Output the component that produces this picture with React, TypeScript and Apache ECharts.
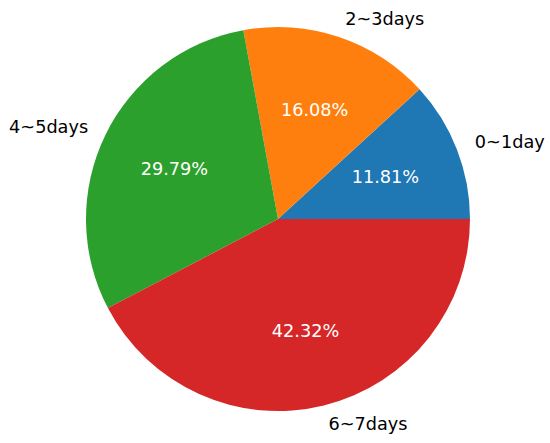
import React, { useEffect, useRef } from "react";
import * as echarts from "echarts";

const categories = ["0~1day", "2~3days", "4~5days", "6~7days"];
const values = [11.81, 16.08, 29.79, 42.32];
const colors = ["#1f77b4", "#ff7f0e", "#2ca02c", "#d62728"];

const CX = 278;
const CY = 219;
const R = 192;
const FONT = "DejaVu Sans";
const FS = 17.7;

export default function App() {
  const ref = useRef<HTMLDivElement>(null);
  useEffect(() => {
    const chart = echarts.init(ref.current!, undefined, { renderer: "svg" });
    const data = categories.map((c, i) => ({ name: c, value: values[i] }));
    chart.setOption({
      animation: false,
      series: [
        {
          type: "pie",
          center: [CX, CY],
          radius: [0, R],
          startAngle: 0,
          clockwise: false,
          avoidLabelOverlap: false,
          silent: true,
          color: colors,
          itemStyle: { borderWidth: 0 },
          label: {
            show: true,
            position: "outside",
            formatter: "{b}",
            color: "#000",
            fontFamily: FONT,
            fontSize: FS,
            distanceToLabelLine: 0,
          },
          labelLine: { show: false, length: R * 0.1, length2: 0 },
          data,
        },
        {
          type: "pie",
          center: [CX, CY],
          radius: [0, 2 * (R * 0.6 - 3)],
          startAngle: 0,
          clockwise: false,
          avoidLabelOverlap: false,
          silent: true,
          z: 5,
          itemStyle: { color: "rgba(0,0,0,0)", borderWidth: 0 },
          label: {
            show: true,
            position: "inside",
            formatter: "{d}%",
            color: "#fff",
            fontFamily: FONT,
            fontSize: FS,
          },
          labelLine: { show: false },
          data,
        },
      ],
    });
    return () => chart.dispose();
  }, []);
  return (
    <div
      ref={ref}
      style={{ position: "fixed", left: 0, top: 0, width: 550, height: 443, background: "#fff" }}
    />
  );
}
